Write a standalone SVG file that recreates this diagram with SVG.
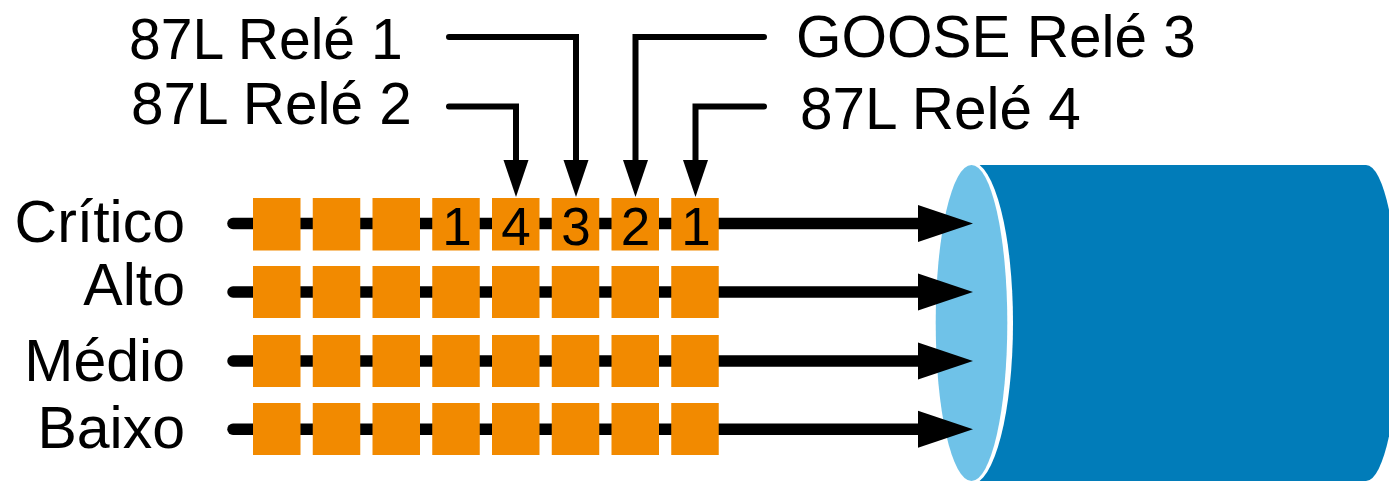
<svg xmlns="http://www.w3.org/2000/svg" width="1389" height="482" viewBox="0 0 1389 482">
  <style>
    .lbl { font-family: "Liberation Sans", Arial, sans-serif; font-size: 57px; fill: #000; }
    .lbl-wide { font-size: 58.5px; }
    .rowlbl { font-family: "Liberation Sans", Arial, sans-serif; font-size: 59px; fill: #000; text-anchor: end; }
    .num { font-family: "Liberation Sans", Arial, sans-serif; font-size: 53px; fill: #000; text-anchor: middle; }
    .row { stroke: #000; stroke-width: 11.5; stroke-linecap: round; fill: none; }
    .rel { stroke: #000; stroke-width: 6; stroke-linecap: round; stroke-linejoin: miter; fill: none; }
    .sq { fill: #F28A00; }
  </style>
  <defs>
    <marker id="bigArrow" markerUnits="userSpaceOnUse" markerWidth="56" markerHeight="38" refX="1" refY="18.5" orient="auto" overflow="visible">
      <path d="M0,0 L55,18.5 L0,37 Z" fill="#000"/>
    </marker>
    <marker id="smallArrow" markerUnits="userSpaceOnUse" markerWidth="38" markerHeight="26" refX="1" refY="12.5" orient="auto" overflow="visible">
      <path d="M0,0 L37,12.5 L0,25 Z" fill="#000"/>
    </marker>
  </defs>

  <g id="cable">
    <path d="M971.5,165 H1366 A33,158 0 0 1 1366,481 H971.5 Z" fill="#017CB9"/>
    <ellipse cx="971.5" cy="323" rx="41.5" ry="161" fill="#FFFFFF"/>
    <ellipse cx="971.5" cy="323" rx="35.8" ry="158" fill="#6FC2E8"/>
  </g>

  <g id="connectors">
    <path class="row" d="M233,223.5 H919" marker-end="url(#bigArrow)"/>
    <path class="row" d="M233,292 H919" marker-end="url(#bigArrow)"/>
    <path class="row" d="M233,361 H919" marker-end="url(#bigArrow)"/>
    <path class="row" d="M233,429.3 H919" marker-end="url(#bigArrow)"/>
    <path class="rel" d="M449,37 H576 V161" marker-end="url(#smallArrow)"/>
    <path class="rel" d="M449,106.5 H516 V161" marker-end="url(#smallArrow)"/>
    <path class="rel" d="M764,37 H635.5 V161" marker-end="url(#smallArrow)"/>
    <path class="rel" d="M764,106.5 H695.5 V161" marker-end="url(#smallArrow)"/>
  </g>

  <g id="row-critico">
    <text class="rowlbl" x="185" y="241.7">Crítico</text>
    <rect class="sq" x="253" y="198" width="47.5" height="52.5"/>
    <rect class="sq" x="312.75" y="198" width="47.5" height="52.5"/>
    <rect class="sq" x="372.5" y="198" width="47.5" height="52.5"/>
    <rect class="sq" x="432.25" y="198" width="47.5" height="52.5"/>
    <rect class="sq" x="492" y="198" width="47.5" height="52.5"/>
    <rect class="sq" x="551.75" y="198" width="47.5" height="52.5"/>
    <rect class="sq" x="611.5" y="198" width="47.5" height="52.5"/>
    <rect class="sq" x="671.25" y="198" width="47.5" height="52.5"/>
    <text class="num" x="457" y="244.5">1</text>
    <text class="num" x="516" y="244.5">4</text>
    <text class="num" x="576" y="244.5">3</text>
    <text class="num" x="635.5" y="244.5">2</text>
    <text class="num" x="696" y="244.5">1</text>
  </g>

  <g id="row-alto">
    <text class="rowlbl" x="185" y="305">Alto</text>
    <rect class="sq" x="253" y="266" width="47.5" height="52"/>
    <rect class="sq" x="312.75" y="266" width="47.5" height="52"/>
    <rect class="sq" x="372.5" y="266" width="47.5" height="52"/>
    <rect class="sq" x="432.25" y="266" width="47.5" height="52"/>
    <rect class="sq" x="492" y="266" width="47.5" height="52"/>
    <rect class="sq" x="551.75" y="266" width="47.5" height="52"/>
    <rect class="sq" x="611.5" y="266" width="47.5" height="52"/>
    <rect class="sq" x="671.25" y="266" width="47.5" height="52"/>
  </g>

  <g id="row-medio">
    <text class="rowlbl" x="185" y="380.7">Médio</text>
    <rect class="sq" x="253" y="335" width="47.5" height="52"/>
    <rect class="sq" x="312.75" y="335" width="47.5" height="52"/>
    <rect class="sq" x="372.5" y="335" width="47.5" height="52"/>
    <rect class="sq" x="432.25" y="335" width="47.5" height="52"/>
    <rect class="sq" x="492" y="335" width="47.5" height="52"/>
    <rect class="sq" x="551.75" y="335" width="47.5" height="52"/>
    <rect class="sq" x="611.5" y="335" width="47.5" height="52"/>
    <rect class="sq" x="671.25" y="335" width="47.5" height="52"/>
  </g>

  <g id="row-baixo">
    <text class="rowlbl" x="185" y="447.7">Baixo</text>
    <rect class="sq" x="253" y="403" width="47.5" height="52"/>
    <rect class="sq" x="312.75" y="403" width="47.5" height="52"/>
    <rect class="sq" x="372.5" y="403" width="47.5" height="52"/>
    <rect class="sq" x="432.25" y="403" width="47.5" height="52"/>
    <rect class="sq" x="492" y="403" width="47.5" height="52"/>
    <rect class="sq" x="551.75" y="403" width="47.5" height="52"/>
    <rect class="sq" x="611.5" y="403" width="47.5" height="52"/>
    <rect class="sq" x="671.25" y="403" width="47.5" height="52"/>
  </g>

  <g id="label-rele1"><text class="lbl" x="129" y="59">87L Relé 1</text></g>
  <g id="label-rele2"><text class="lbl lbl-wide" x="131" y="124">87L Relé 2</text></g>
  <g id="label-rele3"><text class="lbl lbl-wide" x="796" y="57">GOOSE Relé 3</text></g>
  <g id="label-rele4"><text class="lbl lbl-wide" x="800" y="129">87L Relé 4</text></g>
</svg>
